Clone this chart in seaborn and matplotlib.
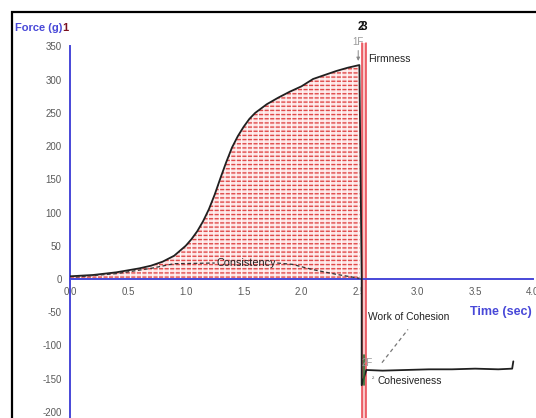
import matplotlib
matplotlib.use("Agg")
import matplotlib.pyplot as plt
from matplotlib.patches import Rectangle
import numpy as np
import pandas as pd
import seaborn as sns

# Texture profile: compression stroke then withdrawal
t_load = [0.0, 0.1, 0.2, 0.3, 0.4, 0.5, 0.6, 0.7, 0.8, 0.9, 1.0, 1.05, 1.1, 1.15,
          1.2, 1.25, 1.3, 1.35, 1.4, 1.45, 1.5, 1.55, 1.6, 1.7, 1.8, 1.9, 2.0,
          2.1, 2.2, 2.3, 2.4, 2.5]
f_load = [4, 5, 6, 8, 10, 13, 16, 20, 26, 35, 50, 60, 72, 87, 105, 127, 152, 176,
          198, 215, 229, 241, 250, 263, 273, 282, 290, 301, 307, 313, 318, 322]

t_unload = [2.50, 2.52, 2.52, 2.56, 2.7, 2.9, 3.1, 3.3, 3.5, 3.7, 3.82, 3.83]
f_unload = [322, 0, -160, -137, -138, -137, -136, -136, -135, -136, -135, -124]

# Dashed "Consistency" guide
cons_left_t = [0.05, 0.4, 0.7, 0.9, 1.25]
cons_left_f = [3, 8, 16, 23, 24]
cons_right_t = [1.79, 1.92, 2.1, 2.3, 2.5]
cons_right_f = [24, 22, 14, 7, 1]

x_ticks = [0.0, 0.5, 1.0, 1.5, 2.0, 2.5, 3.0, 3.5, 4.0]
y_ticks = [-200, -150, -100, -50, 0, 50, 100, 150, 200, 250, 300, 350]

marker_lines = [2.525, 2.56]

sns.set_style("white")
plt.rcParams["font.family"] = ["Liberation Sans", "DejaVu Sans"]
plt.rcParams["hatch.linewidth"] = 1.0

BLUE = "#4848d8"
GREY = "#5a5a5a"
LABEL_SIZE = 7.4

fig = plt.figure(figsize=(5.36, 4.18), dpi=100)
ax = fig.add_axes([70 / 536, -0.0091, 463 / 536, 0.898])

df = pd.DataFrame({"t": t_load + t_unload[1:], "f": f_load + f_unload[1:]})

# Hatched area under the compression curve: red rows broken into dashes
ax.fill_between(t_load, f_load, 0, facecolor="#fde4e4", edgecolor="#e04a4a",
                hatch="----", linewidth=0, zorder=1)
ax.fill_between(t_load, f_load, 0, facecolor="none", edgecolor="#fff6f6",
                hatch="|||", linewidth=0, zorder=1.1)

# Pink band between the two marker lines
ax.fill_betweenx([-215, 355], marker_lines[0], marker_lines[1],
                 color="#f8c8c8", lw=0, clip_on=False, zorder=1.5)
for xm in marker_lines:
    ax.plot([xm, xm], [-215, 355], color="#e8404a", lw=1.1, clip_on=False, zorder=2)

sns.lineplot(data=df, x="t", y="f", sort=False, estimator=None, color="#202020",
             lw=1.3, ax=ax, zorder=3)
ax.plot([2.54, 2.54], [-115, -160], color="#2f6a2f", lw=1.2, zorder=3)

ax.plot(cons_left_t, cons_left_f, ls=(0, (3, 2)), color="#333333", lw=0.9, zorder=3)
ax.plot(cons_right_t, cons_right_f, ls=(0, (3, 2)), color="#333333", lw=0.9, zorder=3)
ax.text(1.52, 24, "Consistency", fontsize=7.8, color="#222222", ha="center",
        va="center", zorder=4)

# Annotations
ax.text(2.575, -58, "Work of Cohesion", fontsize=LABEL_SIZE, color="#222222",
        ha="left", va="center")
ax.plot([2.695, 2.92], [-126, -76], ls=(0, (3, 2.5)), color="#777777", lw=0.9)
ax.text(2.52, -126, "2F", fontsize=7, color="#9a9a9a", ha="left", va="center")
ax.text(2.61, -152, "²", fontsize=5, color="#666666", ha="left", va="center")
ax.text(2.66, -153, "Cohesiveness", fontsize=LABEL_SIZE, color="#222222",
        ha="left", va="center")
ax.text(2.44, 357, "1F", fontsize=7, color="#9a9a9a", ha="left", va="center")
ax.annotate("", xy=(2.49, 324), xytext=(2.49, 348),
            arrowprops=dict(arrowstyle="-|>", color="#888888", lw=0.7,
                            mutation_scale=5), annotation_clip=False)
ax.text(2.575, 331, "Firmness", fontsize=LABEL_SIZE, color="#222222", ha="left",
        va="center")
ax.text(2.515, 380, "2", fontsize=8.5, fontweight="bold", color="#111111",
        ha="center", va="center")
ax.text(2.54, 380, "3", fontsize=8.5, fontweight="bold", color="#111111",
        ha="center", va="center")

# Axes styling
ax.set_xlim(0, 4.0)
ax.set_ylim(-215, 350)
ax.set_xticks(x_ticks)
ax.set_xticklabels([f"{v:.1f}" for v in x_ticks])
ax.set_yticks(y_ticks)
ax.set_yticklabels([str(v) for v in y_ticks])
ax.set_xlabel("")
ax.set_ylabel("")
for s in ["top", "right"]:
    ax.spines[s].set_visible(False)
ax.spines["bottom"].set_position(("data", 0))
ax.spines["left"].set_color(BLUE)
ax.spines["bottom"].set_color(BLUE)
ax.spines["left"].set_linewidth(1.4)
ax.spines["bottom"].set_linewidth(1.4)
ax.tick_params(axis="both", colors=BLUE, length=4, width=1.3, direction="out",
               labelcolor=GREY, labelsize=7, pad=2)
ax.patch.set_alpha(0)

fig.text(15 / 536, 1 - 28 / 418, "Force (g)", fontsize=8, fontweight="bold",
         color=BLUE, ha="left", va="center")
fig.text(62.5 / 536, 1 - 28 / 418, "1", fontsize=8, fontweight="bold",
         color="#7a1020", ha="left", va="center")
fig.text(532 / 536, 1 - 312 / 418, "Time (sec)", fontsize=9, fontweight="bold",
         color=BLUE, ha="right", va="center")

fig.patches.append(Rectangle((12 / 536, -0.1), 1.2, 1 - 12 / 418 + 0.1,
                             transform=fig.transFigure, fill=False,
                             edgecolor="black", lw=1.6))

fig.savefig("out.png", dpi=100)
